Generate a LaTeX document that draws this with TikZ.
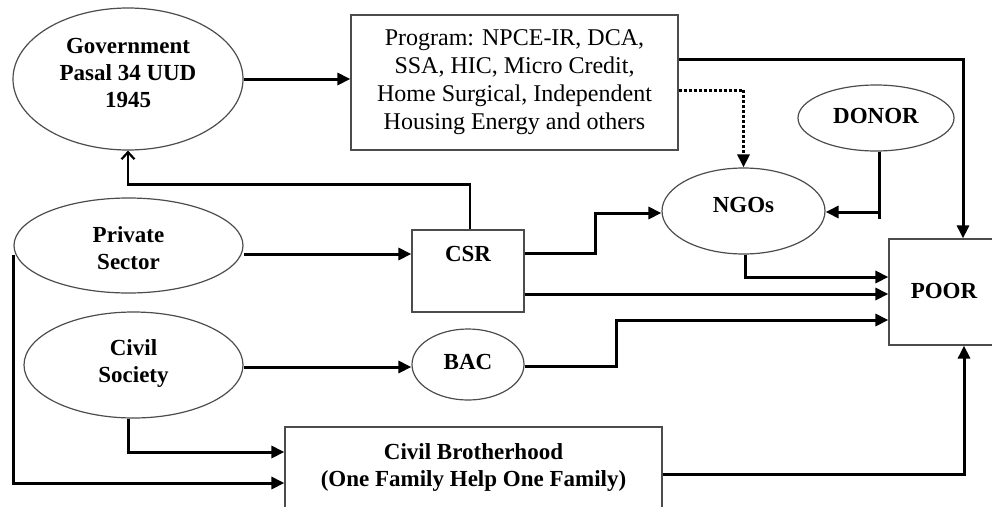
\documentclass[tikz,border=0pt]{standalone}
\usepackage{fontspec}
\setmainfont{Liberation Serif}
\usetikzlibrary{arrows.meta,shapes.geometric,calc}
\tikzset{
  shp/.style={draw=black!70, line width=1.2pt, inner sep=0pt},
  ell/.style={shp, ellipse},
  box/.style={shp, rectangle},
  btxt/.style={font=\fontsize{23}{27}\selectfont\bfseries, align=center, inner sep=0pt},
  rtxt/.style={font=\fontsize{24}{28}\selectfont, align=center, inner sep=0pt},
  con/.style={line width=3pt, -{Triangle[length=13pt,width=12pt]}},
  dcon/.style={line width=3pt, dotted, -{Triangle[length=13pt,width=12pt]}},
  ocon/.style={line width=2.2pt, -{Straight Barb[length=7pt,width=13pt]}}
}
\begin{document}
\begin{tikzpicture}[x=1pt,y=-1pt]
\useasboundingbox (0,0) rectangle (992,506);
% nodes
\node[ell, minimum width=230pt, minimum height=142pt] (gov) at (128,79) {};
\node[btxt] (govt) at (128,73) {Government\\Pasal 34 UUD\\1945};
\node[box, minimum width=327pt, minimum height=135pt] (prog) at (514.5,82.5) {};
\node[rtxt] (progt) at (514.5,82) {Program: NPCE-IR, DCA,\\SSA, HIC, Micro Credit,\\Home Surgical, Independent\\Housing Energy and others};
\node[ell, minimum width=156pt, minimum height=66pt] (donor) at (876,118) {};
\node[btxt] (donort) at (876,116) {DONOR};
\node[ell, minimum width=163pt, minimum height=86pt] (ngos) at (743.5,211) {};
\node[btxt] (ngost) at (743.5,205) {NGOs};
\node[ell, minimum width=229pt, minimum height=95pt] (priv) at (128.5,245.5) {};
\node[btxt] (privt) at (128.5,248) {Private\\Sector};
\node[box, minimum width=112pt, minimum height=82pt] (csr) at (468,271) {};
\node[btxt] (csrt) at (468,254) {CSR};
\node[ell, minimum width=219pt, minimum height=106pt] (civ) at (133.5,365) {};
\node[btxt] (civt) at (133.5,363) {Civil\\Society};
\node[ell, minimum width=112pt, minimum height=71pt] (bac) at (468,364.5) {};
\node[btxt] (bact) at (468,362) {BAC};
\node[box, minimum width=108pt, minimum height=106pt] (poor) at (943,292) {};
\node[btxt] (poort) at (944,291) {POOR};
\node[box, minimum width=377pt, minimum height=86pt] (cb) at (473.5,470) {};
\node[btxt] (cbt) at (473.5,467) {Civil Brotherhood\\(One Family Help One Family)};
% connectors
\draw[con] (gov.east) -- (gov.east -| prog.west);
\draw[ocon] ([xshift=2pt]csr.north) -- ++(0,-45) -| (gov.south);
\draw[con] ([yshift=23.5pt]prog.east) -| ([xshift=20pt]poor.north);
\draw[dcon] ([yshift=-7.5pt]prog.east) -| (ngos.north);
\draw[line width=3pt] ([xshift=3pt]donor.south) -- ++(0,67);
\draw[con] ([xshift=3pt,yshift=-1pt]donor.south |- ngos.east) -- ([yshift=-1pt]ngos.east);
\draw[con] (priv.east |- csrt) -- (csr.west |- csrt);
\draw[con] ([yshift=1pt]csr.east |- csrt) -- ++(71,0) |- ([yshift=-2pt]ngos.west);
\draw[con] ([yshift=-23pt]csr.east) -- ([yshift=-23pt]csr.east -| poor.west);
\draw[con] ([xshift=1.5pt]ngos.south) |- ([yshift=15pt]poor.west);
\draw[con] ([yshift=-2pt]civ.east) -- ([yshift=-2pt]civ.east -| bac.west);
\draw[con] ([yshift=-2pt]bac.east) -- ++(92,0) |- ([yshift=-28pt]poor.west);
\draw[con] ([xshift=-5.5pt]civ.south) |- ([yshift=18pt]cb.west);
\draw[con] ([yshift=-9pt]priv.west) |- ([yshift=-13pt]cb.west);
\draw[con, -{Triangle[length=13pt,width=12pt]}] ([yshift=-4pt]cb.east) -| ([xshift=21pt]poor.south);
\end{tikzpicture}
\end{document}
